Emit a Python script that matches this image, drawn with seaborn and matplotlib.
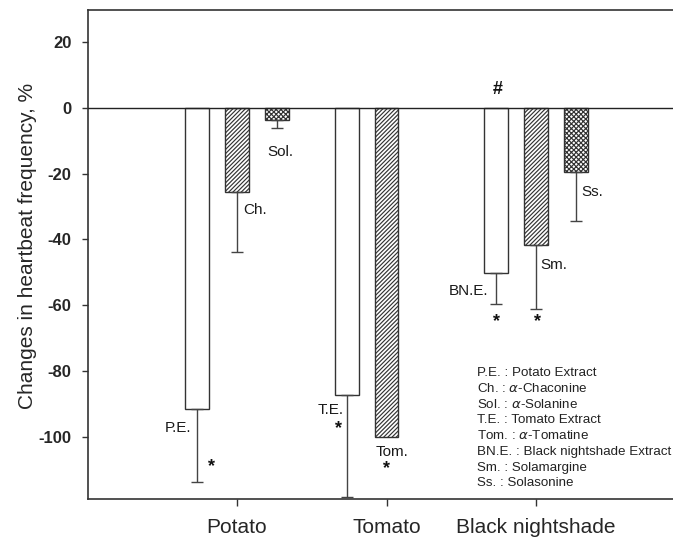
import numpy as np
import pandas as pd
import matplotlib
matplotlib.use("Agg")
import matplotlib.pyplot as plt
import seaborn as sns

# Plant groups and the three treatment slots per group
groups = ["Potato", "Tomato", "Black nightshade"]
treatments = ["Extract", "Compound A", "Compound B"]

# Mean change in heartbeat frequency (%) and standard errors
extract_mean = [-91.7, -87.4, -50.3]
extract_se = [22.1, 31.0, 9.4]
compound_a_mean = [-25.7, -100.0, -41.7]
compound_a_se = [18.2, 0.0, 19.4]
compound_b_mean = [-3.7, np.nan, -19.5]
compound_b_se = [2.5, np.nan, 14.8]

# Short names shown beside each bar
extract_names = ["P.E.", "T.E.", "BN.E."]
compound_a_names = ["Ch.", "Tom.", "Sm."]
compound_b_names = ["Sol.", None, "Ss."]

key_lines = [
    "P.E. : Potato Extract",
    r"Ch. : $\alpha$-Chaconine",
    r"Sol. : $\alpha$-Solanine",
    "T.E. : Tomato Extract",
    r"Tom. : $\alpha$-Tomatine",
    "BN.E. : Black nightshade Extract",
    "Sm. : Solamargine",
    "Ss. : Solasonine",
]

y_ticks = [20, 0, -20, -40, -60, -80, -100]

rows = []
for t, means, ses, names in [
    (treatments[0], extract_mean, extract_se, extract_names),
    (treatments[1], compound_a_mean, compound_a_se, compound_a_names),
    (treatments[2], compound_b_mean, compound_b_se, compound_b_names),
]:
    for g, m, s, n in zip(groups, means, ses, names):
        rows.append({"group": g, "treatment": t, "change": m, "se": s, "name": n})
df = pd.DataFrame(rows)

sns.set_style("ticks")
plt.rcParams["font.family"] = ["Liberation Sans", "DejaVu Sans"]
plt.rcParams["hatch.linewidth"] = 0.85

edge = "#333333"
fig = plt.figure(figsize=(6.73, 5.39), dpi=100)
ax = fig.add_axes([87.5 / 673, 40 / 539, 1 - 87.5 / 673, 489 / 539])

sns.barplot(
    data=df.dropna(subset=["change"]), x="group", y="change", hue="treatment",
    order=groups, hue_order=treatments, palette=["white"] * 3,
    width=0.8, gap=0.4, errorbar=None, legend=False,
    edgecolor=edge, linewidth=1.0, ax=ax,
)

hatches = {treatments[0]: "", treatments[1]: "////////", treatments[2]: "xxxxxxx"}
bar_of = {}
for cont, t in zip(ax.containers, treatments):
    for p in cont.patches:
        p.set_hatch(hatches[t])
        p.set_edgecolor(edge)
        xc = p.get_x() + p.get_width() / 2
        g = groups[int(round(xc))]
        bar_of[(g, t)] = p


def bar_end(p):
    """Centre x and far (lower) end of a bar."""
    xc = p.get_x() + p.get_width() / 2
    return xc, min(p.get_y(), p.get_y() + p.get_height())


# One-sided (downward) error bars
for _, r in df.dropna(subset=["change"]).iterrows():
    if r["se"] > 0:
        xc, _ = bar_end(bar_of[(r["group"], r["treatment"])])
        ax.errorbar(xc, r["change"], yerr=[[r["se"]], [0]], fmt="none",
                    ecolor="#444444", elinewidth=1.0, capsize=4.5, capthick=1.0,
                    zorder=3)

ax.axhline(0, color="#222222", lw=1.0, zorder=4)

# Name labels next to the bars: (group, treatment, text, dx px, dy px, ha)
labels = [
    ("Potato", treatments[0], "P.E.", -6, -19, "right"),
    ("Potato", treatments[1], "Ch.", 6, -18, "left"),
    ("Potato", treatments[2], "Sol.", -10, -32, "left"),
    ("Tomato", treatments[0], "T.E.", -3, -15, "right"),
    ("Tomato", treatments[1], "Tom.", -11, -15, "left"),
    ("Black nightshade", treatments[0], "BN.E.", -8, -18, "right"),
    ("Black nightshade", treatments[1], "Sm.", 4, -20, "left"),
    ("Black nightshade", treatments[2], "Ss.", 5, -20, "left"),
]
for g, t, txt, dx, dy, ha in labels:
    ax.annotate(txt, bar_end(bar_of[(g, t)]), xytext=(dx, dy),
                textcoords="offset pixels", ha=ha, va="center",
                fontsize=11, color="#1a1a1a")

# Significance marks below the bars
marks = [
    ("Potato", treatments[0], "*", 14, -57),
    ("Tomato", treatments[0], "*", -8, -33),
    ("Tomato", treatments[1], "*", 0, -32),
    ("Black nightshade", treatments[0], "*", 0, -48),
    ("Black nightshade", treatments[1], "*", 1, -77),
]
for g, t, txt, dx, dy in marks:
    ax.annotate(txt, bar_end(bar_of[(g, t)]), xytext=(dx, dy),
                textcoords="offset pixels", ha="center", va="center",
                fontsize=13, fontweight="bold", color="#111111")
xc, _ = bar_end(bar_of[("Black nightshade", treatments[0])])
ax.annotate("#", (xc, 0), xytext=(2, 18), textcoords="offset pixels",
            ha="center", va="center", fontsize=13, fontweight="bold",
            color="#111111")

# Abbreviation key
for i, line in enumerate(key_lines):
    fig.text(476.7 / 673, 1 - (372.7 + i * 15.8) / 539, line, ha="left", va="center",
             fontsize=9.6, color="#222222")

ax.set_xlim(-1, (673 - 87.5) / 149.5 - 1)
ax.set_ylim(-118.9, 29.7)
ax.set_yticks(y_ticks)
ax.set_yticklabels([str(v) for v in y_ticks], fontweight="bold", fontsize=12)
ax.tick_params(axis="y", length=4.5, width=1.0, pad=7, color=edge)
ax.tick_params(axis="x", length=5, width=1.0, pad=9, labelsize=15, color=edge)
ax.set_xlabel("")
ax.set_ylabel("Changes in heartbeat frequency, %", fontsize=15)
ax.yaxis.set_label_coords((36 - 87.5) / 598, 0.518)
ax.spines["right"].set_visible(False)
for s in ["left", "top", "bottom"]:
    ax.spines[s].set_color(edge)
    ax.spines[s].set_linewidth(1.2)

fig.savefig("out.png", dpi=100)
